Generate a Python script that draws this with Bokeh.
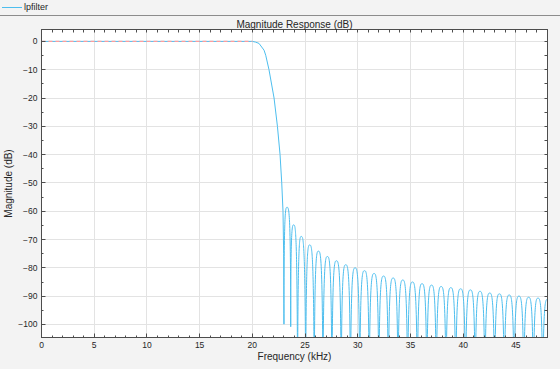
import numpy as np
from bokeh.plotting import figure
from bokeh.models import Range1d, LinearAxis, SingleIntervalTicker, FixedTicker, Div
from bokeh.layouts import column
from bokeh.embed import file_html
from bokeh.resources import INLINE

# ---- data ----
# passband + transition (main lobe)
main_f = [0.0, 20.0, 20.3, 20.63, 21.11, 21.27, 21.58, 22.06, 22.38, 22.63, 22.79, 22.91, 22.97, 23.0]
main_db = [0.0, 0.0, -0.25, -0.7, -3.1, -4.9, -10.0, -20.0, -30.0, -40.0, -50.0, -60.0, -75.0, -99.9]

# stopband nulls (frequency kHz, depth dB; -140 = far below the axis)
null_f = [23.00, 23.64, 24.29, 25.06, 25.87, 26.70, 27.55, 28.43, 29.31, 30.19,
          31.09, 32.00, 32.90, 33.82, 34.73, 35.65, 36.55, 37.45, 38.37, 39.29,
          40.22, 41.14, 42.06, 42.98, 43.90, 44.83, 45.75, 46.66, 47.55, 48.45]
null_db = [-99.9, -100.8] + [-140.0] * 28

# sidelobe peaks
peak_f = [23.29, 23.92, 24.64, 25.44, 26.27, 27.12, 27.98, 28.86, 29.75, 30.64,
          31.55, 32.45, 33.36, 34.27, 35.19, 36.10, 37.00, 37.91, 38.83, 39.76,
          40.69, 41.60, 42.52, 43.44, 44.37, 45.29, 46.21, 47.10, 48.00]
peak_db = [-58.6, -64.8, -68.9, -71.9, -74.1, -76.0, -77.5, -78.9, -80.0, -81.0,
           -82.0, -82.9, -83.6, -84.3, -85.0, -85.6, -86.1, -86.6, -87.0, -87.4,
           -87.8, -88.3, -88.9, -89.2, -89.6, -90.0, -90.4, -90.7, -91.1]

# passband mask
mask_f = [0.0, 20.0]
mask_db = [0.0, 0.0]

series_name = "lpfilter"
x_ticks_interval = 5
y_ticks_interval = 10

BLUE = "#4dbeee"
BG = "#f3f3f3"
TXT = "#262626"
AX = "#4d4d4d"
FONT = "Liberation Sans"

W = 560
STRIP_H = 16
MAIN_H = 353

# ---- legend strip (HTML) ----
strip = Div(
    text=(
        f'<div style="width:{W}px;height:{STRIP_H - 1}px;border-bottom:1px solid #8c8c8c;'
        f'background:{BG};font-family:\'{FONT}\';font-size:9px;color:{TXT};'
        f'line-height:{STRIP_H - 1}px;white-space:nowrap;overflow:hidden;padding-left:2px;'
        f'box-sizing:content-box;">'
        f'<span style="display:inline-block;width:20px;height:0;border-top:1px solid {BLUE};'
        f'vertical-align:middle;margin-right:2px;"></span>{series_name}</div>'
    ),
    width=W, height=STRIP_H, margin=(0, 0, 0, 0),
)

# ---- main plot ----
p = figure(width=W, height=MAIN_H, x_range=Range1d(0, 48), y_range=Range1d(-104.6, 4.2),
           toolbar_location=None, output_backend="svg",
           min_border_left=41, min_border_right=13, min_border_top=0, min_border_bottom=32)
p.background_fill_color = "white"
p.border_fill_color = BG
p.outline_line_color = AX

p.title.text = "Magnitude Response (dB)"
p.title.align = "center"
p.title.text_font = FONT
p.title.text_font_size = "10px"
p.title.text_font_style = "normal"
p.title.text_color = TXT
p.title.standoff = 0

p.xaxis.ticker = SingleIntervalTicker(interval=x_ticks_interval, num_minor_ticks=5)
p.yaxis.ticker = SingleIntervalTicker(interval=y_ticks_interval, num_minor_ticks=2)
p.xaxis.axis_label = "Frequency (kHz)"
p.yaxis.axis_label = "Magnitude (dB)"

for ax in (p.xaxis[0], p.yaxis[0]):
    ax.axis_label_text_font = FONT
    ax.axis_label_text_font_size = "10px"
    ax.axis_label_text_font_style = "normal"
    ax.axis_label_text_color = TXT
    ax.major_label_text_font = FONT
    ax.major_label_text_font_size = "8.5px"
    ax.major_label_text_color = TXT
    ax.axis_line_color = AX
    ax.major_tick_line_color = AX
    ax.minor_tick_line_color = AX
    ax.major_tick_in = 4
    ax.major_tick_out = 0
    ax.minor_tick_in = 2
    ax.minor_tick_out = 0
p.xaxis.major_label_standoff = 4
p.xaxis.axis_label_standoff = 0
p.yaxis.major_label_standoff = 4
p.yaxis.axis_label_standoff = 1

# mirrored tick marks on top / right (no labels)
top = LinearAxis(ticker=FixedTicker(ticks=[], minor_ticks=list(np.arange(0, 49, 1.0))))
right = LinearAxis(ticker=FixedTicker(ticks=[], minor_ticks=list(np.arange(-100, 5, 5.0))))
for ax in (top, right):
    ax.axis_line_color = AX
    ax.minor_tick_line_color = AX
    ax.minor_tick_in = 3
    ax.minor_tick_out = 0
    ax.major_label_standoff = 0
p.add_layout(top, "above")
p.add_layout(right, "right")

p.xgrid.grid_line_color = "#e3e3e3"
p.ygrid.grid_line_color = "#e3e3e3"

# main lobe / passband
p.line(main_f, main_db, line_color=BLUE, line_width=1)

# sidelobes: each drawn as two cubic Bezier halves (null -> peak -> null)
nf = np.array(null_f)
nd = np.array(null_db)
pf = np.array(peak_f)
pd_ = np.array(peak_db)
p.bezier(x0=nf[:-1], y0=nd[:-1], x1=pf, y1=pd_,
         cx0=nf[:-1], cy0=pd_, cx1=(nf[:-1] + pf) / 2, cy1=pd_,
         line_color=BLUE, line_width=1)
p.bezier(x0=pf, y0=pd_, x1=nf[1:], y1=nd[1:],
         cx0=(pf + nf[1:]) / 2, cy0=pd_, cx1=nf[1:], cy1=pd_,
         line_color=BLUE, line_width=1)

# passband mask
p.line(mask_f, mask_db, line_color="#ff9c9c", line_width=1.3, line_dash="4 3")

layout = column(strip, p, spacing=0)
layout.styles = {"background-color": BG}

open("out.html", "w").write(file_html(layout, INLINE))
